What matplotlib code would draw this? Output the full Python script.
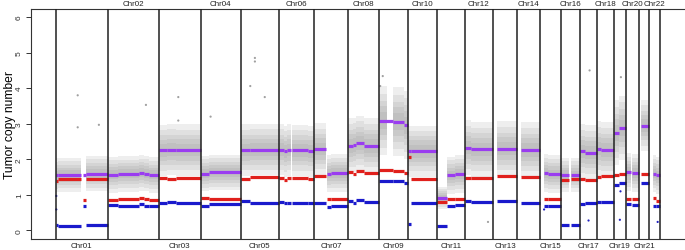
import matplotlib
matplotlib.use("Agg")
import matplotlib.pyplot as plt
import matplotlib.transforms as mtransforms
import numpy as np

# ---------------- data ----------------
chrom_names = ["Chr%02d" % i for i in range(1, 23)]
chrom_len = [249.3, 243.2, 198.0, 191.2, 180.9, 171.1, 159.1, 146.4, 141.2, 135.5, 135.0,
             133.9, 115.2, 107.3, 102.5, 90.4, 81.2, 78.1, 59.1, 63.0, 48.1, 51.3]

# segments: chromosome, start (Mb), end (Mb), total CN, major CN, minor CN, cloud spread
seg_chrom = [1, 1, 1, 1,
             2, 2, 2, 2, 2,
             3, 3, 3,
             4, 4,
             5, 5,
             6, 6, 6, 6, 6,
             7, 7, 7,
             8, 8, 8, 8,
             9, 9, 9,
             10, 10,
             11, 11, 11,
             12, 12,
             13,
             14,
             15, 15,
             16, 16,
             17, 17,
             18, 18,
             19, 19,
             20, 20,
             21,
             22, 22]
seg_start = [0, 10, 128, 146,
             0, 50, 150, 170, 195,
             0, 40, 80,
             0, 40,
             0, 45,
             0, 25, 40, 62, 140,
             0, 58, 80,
             0, 25, 40, 75,
             0, 68, 120,
             0, 15,
             0, 48, 90,
             0, 30,
             19,
             19,
             20, 40,
             0, 46,
             0, 22,
             0, 20,
             0, 28,
             0, 29,
             10,
             16, 30]
seg_end = [10, 121, 146, 249.3,
           50, 150, 170, 195, 243.2,
           40, 80, 198.0,
           40, 191.2,
           45, 180.9,
           25, 40, 60, 140, 171.1,
           55, 80, 159.1,
           25, 40, 75, 146.4,
           68, 120, 141.2,
           15, 135.5,
           48, 90, 135.0,
           30, 133.9,
           115.2,
           107.3,
           40, 102.5,
           35, 90.4,
           22, 81.2,
           20, 78.1,
           25, 59.1,
           25, 63.0,
           48.1,
           30, 51.3]
seg_total = [1.55, 1.57, 1.55, 1.60,
             1.57, 1.59, 1.62, 1.60, 1.56,
             2.25, 2.27, 2.26,
             1.60, 1.63,
             2.26, 2.27,
             2.27, 2.22, 2.26, 2.25, 2.23,
             2.29, 1.60, 1.62,
             2.38, 2.40, 2.46, 2.38,
             3.09, 3.06, 2.96,
             2.23, 2.23,
             0.92, 1.55, 1.59,
             2.33, 2.28,
             2.30,
             2.27,
             1.62, 1.58,
             1.57, 1.56,
             2.22, 2.19,
             2.30, 2.27,
             2.75, 2.88,
             1.65, 1.62,
             2.95,
             1.60, 1.55]
seg_major = [1.40, 1.45, 0.86, 1.46,
             0.86, 0.89, 0.90, 0.89, 0.87,
             1.48, 1.46, 1.48,
             0.90, 0.89,
             1.45, 1.49,
             1.47, 1.43, 1.47, 1.47, 1.44,
             1.53, 0.89, 0.89,
             1.64, 1.60, 1.67, 1.61,
             1.71, 1.68, 1.62,
             2.07, 1.45,
             0.80, 0.88, 0.89,
             1.48, 1.48,
             1.52,
             1.50,
             0.88, 0.88,
             1.43, 1.45,
             1.45, 1.41,
             1.50, 1.52,
             1.55, 1.58,
             0.89, 0.88,
             1.59,
             0.90, 0.84]
seg_minor = [0.14, 0.13, 0.69, 0.14,
             0.72, 0.70, 0.75, 0.70, 0.69,
             0.76, 0.80, 0.78,
             0.69, 0.73,
             0.83, 0.78,
             0.80, 0.76, 0.78, 0.78, 0.78,
             0.78, 0.67, 0.70,
             0.83, 0.78, 0.85, 0.80,
             1.38, 1.38, 1.34,
             0.19, 0.78,
             0.12, 0.68, 0.71,
             0.83, 0.80,
             0.82,
             0.78,
             0.70, 0.70,
             0.14, 0.14,
             0.75, 0.78,
             0.80, 0.80,
             1.28, 1.33,
             0.73, 0.71,
             1.34,
             0.70, 0.69]
seg_spread = [0.20, 0.20, 0.00, 0.21,
              0.21, 0.21, 0.21, 0.21, 0.21,
              0.30, 0.30, 0.30,
              0.21, 0.21,
              0.30, 0.30,
              0.30, 0.30, 0.30, 0.30, 0.30,
              0.30, 0.22, 0.22,
              0.32, 0.32, 0.32, 0.32,
              0.40, 0.40, 0.40,
              0.30, 0.30,
              0.13, 0.22, 0.22,
              0.32, 0.32,
              0.32,
              0.32,
              0.22, 0.22,
              0.20, 0.20,
              0.32, 0.32,
              0.32, 0.32,
              0.38, 0.38,
              0.22, 0.22,
              0.30,
              0.22, 0.22]

# regions without probes (centromeres / gaps)
gap_chrom = [1, 3, 9, 16, 19, 20]
gap_start = [121, 89, 39, 35, 25, 25]
gap_end = [128, 93, 68, 46, 28, 29]

# isolated outlying probes
out_chrom = [1, 1, 1, 2, 3, 3, 4, 5, 5, 5, 5, 9, 9, 17, 19, 12, 1, 1, 15, 17, 22, 19, 19]
out_pos = [105, 105, 206, 181, 92, 92, 48, 68, 68, 46, 115, 20, 8, 45, 35, 110, 3, 3, 21, 40, 40, 30, 33]
out_val = [3.80, 2.90, 2.97, 3.53, 3.75, 3.09, 3.20, 4.85, 4.75, 4.06, 3.75, 4.34, 4.06, 4.50, 4.31, 0.24,
           0.59, 0.97, 0.59, 0.28, 0.24, 0.30, 1.10]
out_color = ["#a0a0a0"] * 16 + ["#2020c0"] * 7

# ---------------- plot ----------------
purple = "#9a3cf0"
red = "#e0201c"
blue = "#1a1acc"

fig = plt.figure(figsize=(6.85, 2.51), dpi=100)
ax = fig.add_axes([31.5 / 685, 11.0 / 251, (684.2 - 31.5) / 685, 230.5 / 251])

offsets = np.concatenate([[0], np.cumsum(chrom_len)])
total_len = offsets[-1]

# probe cloud drawn as nested soft bands (denser near the segment level)
band_mult = [2.4, 1.9, 1.4, 1.0, 0.6]
for c, s, e, t, sp in zip(seg_chrom, seg_start, seg_end, seg_total, seg_spread):
    if sp <= 0:
        continue
    x0 = offsets[c - 1] + s
    x1 = offsets[c - 1] + e
    for m in band_mult:
        ax.fill_between([x0, x1], t - m * sp, t + m * sp, color="#8c8c8c",
                        alpha=0.14, lw=0, zorder=1)

for c, s, e in zip(gap_chrom, gap_start, gap_end):
    ax.axvspan(offsets[c - 1] + s, offsets[c - 1] + e, color="white", lw=0, zorder=1.5)

ax.scatter([offsets[c - 1] + p for c, p in zip(out_chrom, out_pos)], out_val,
           s=2.5, c=out_color, lw=0, zorder=2)

# segments
lw_seg = 2.3
for c, s, e, t, ma, mi in zip(seg_chrom, seg_start, seg_end, seg_total, seg_major, seg_minor):
    x0 = offsets[c - 1] + s
    x1 = offsets[c - 1] + e
    ax.hlines(mi, x0, x1, colors=blue, lw=lw_seg, zorder=3)
    ax.hlines(ma, x0, x1, colors=red, lw=lw_seg, zorder=3)
    ax.hlines(t, x0, x1, colors=purple, lw=lw_seg, zorder=4)

# chromosome boundaries
for b in offsets:
    ax.axvline(b, color="#202020", lw=1.1, zorder=5)

ax.set_xlim(-0.04 * total_len, 1.04 * total_len)
ax.set_ylim(-0.24, 6.24)

ax.set_xticks([])
ax.set_yticks(range(0, 7))
ax.set_yticklabels([str(i) for i in range(0, 7)], rotation=90, va="center",
                   fontsize=6, family="Liberation Sans", color="#333333")
ax.tick_params(axis="y", length=3.6, width=0.7, pad=2.5, color="#333333")
ax.set_ylabel("Tumor copy number", fontsize=8.7, family="Liberation Sans")
ax.yaxis.set_label_coords(-0.024, 0.5)

for side in ["left", "top", "bottom"]:
    ax.spines[side].set_linewidth(0.8)
    ax.spines[side].set_color("#333333")
ax.spines["right"].set_visible(False)

trans = mtransforms.blended_transform_factory(ax.transData, ax.transAxes)
for i, name in enumerate(chrom_names):
    mid = (offsets[i] + offsets[i + 1]) / 2.0
    if i % 2 == 0:
        ax.text(mid, -0.028, name, transform=trans, ha="center", va="center",
                fontsize=5.8, family="Liberation Sans", color="#222222")
    else:
        ax.text(mid, 1.021, name, transform=trans, ha="center", va="center",
                fontsize=5.8, family="Liberation Sans", color="#222222")

fig.savefig("out.png", dpi=100)
